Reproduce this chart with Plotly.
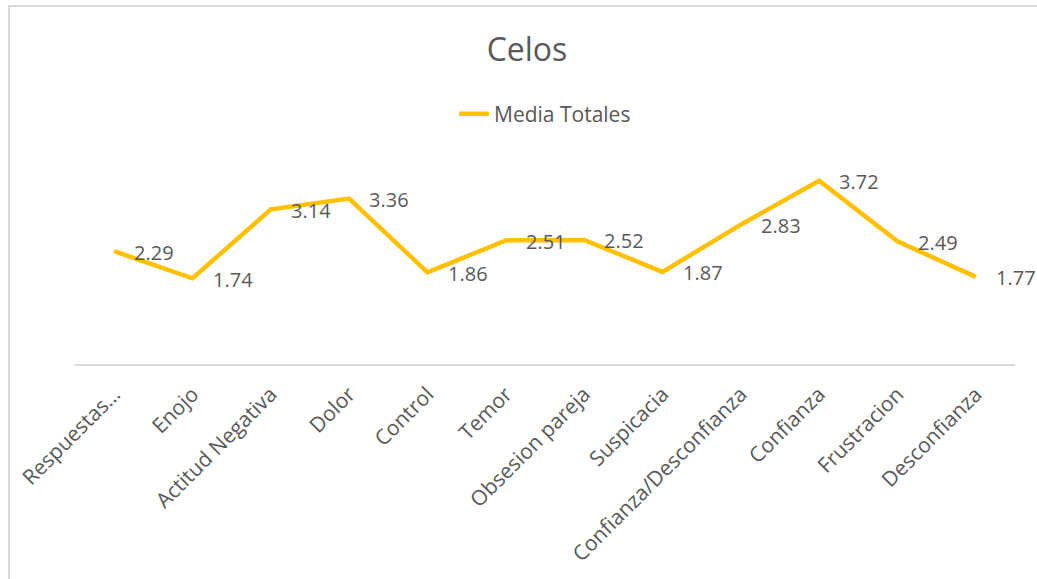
import plotly.graph_objects as go

categories = ["Respuestas…", "Enojo", "Actitud Negativa", "Dolor", "Control", "Temor",
              "Obsesion pareja", "Suspicacia", "Confianza/Desconfianza", "Confianza",
              "Frustracion", "Desconfianza"]
values = [2.29, 1.74, 3.14, 3.36, 1.86, 2.51, 2.52, 1.87, 2.83, 3.72, 2.49, 1.77]
series_name = "Media Totales"
title_text = "Celos"

LINE_COLOR = "#FFC000"
TEXT_COLOR = "#595959"
FONT = "Open Sans"

x_idx = list(range(len(categories)))

fig = go.Figure()
fig.add_trace(go.Scatter(
    x=x_idx, y=values, mode="lines", name=series_name,
    line=dict(color=LINE_COLOR, width=4.5),
    hoverinfo="skip",
))

for xi, v in zip(x_idx, values):
    fig.add_annotation(x=xi, y=v, xref="x", yref="y", text=f"{v:.2f}",
                       showarrow=False, xanchor="left", yanchor="middle",
                       xshift=18, yshift=-1,
                       font=dict(family=FONT, size=20, color=TEXT_COLOR))

W, H = 1037, 579
ml, mr, mt, mb = 75, 22, 167, 215
pw, ph = W - ml - mr, H - mt - mb
# chart border (light gray frame)
bx0 = (9 - ml) / pw
bx1 = (W + 5 - ml) / pw
by1 = (H - mb - 6) / ph
by0 = (H - mb - (H + 5)) / ph
fig.add_shape(type="rect", xref="paper", yref="paper", x0=bx0, x1=bx1, y0=by0, y1=by1,
              line=dict(color="#D9D9D9", width=2), fillcolor="rgba(0,0,0,0)", layer="below")

fig.update_layout(
    width=W, height=H,
    margin=dict(l=ml, r=mr, t=mt, b=mb, pad=0),
    paper_bgcolor="white", plot_bgcolor="white",
    title=dict(text=title_text, x=527 / W, xref="container", xanchor="center",
               y=1 - 50 / H, yanchor="middle",
               font=dict(family=FONT, size=32, color=TEXT_COLOR)),
    showlegend=True,
    legend=dict(orientation="h", x=0.5, xanchor="center", xref="paper",
                y=(H - mb - 114) / ph, yanchor="middle",
                font=dict(family=FONT, size=21, color=TEXT_COLOR),
                bgcolor="rgba(0,0,0,0)"),
    xaxis=dict(
        tickmode="array", tickvals=x_idx, ticktext=categories,
        range=[-0.5, len(categories) - 0.5],
        showline=True, linecolor="#D9D9D9", linewidth=1.5,
        showgrid=False, zeroline=False, ticks="",
        tickangle=-45,
        ticklabelshift=0, ticklabelstandoff=8,
        tickfont=dict(family=FONT, size=21, color=TEXT_COLOR),
        fixedrange=True,
    ),
    yaxis=dict(range=[0, 4], visible=False, showgrid=False, zeroline=False, fixedrange=True),
)

fig.write_html("out.html", config={"displayModeBar": False},
               post_script="document.body.style.margin='0';")
